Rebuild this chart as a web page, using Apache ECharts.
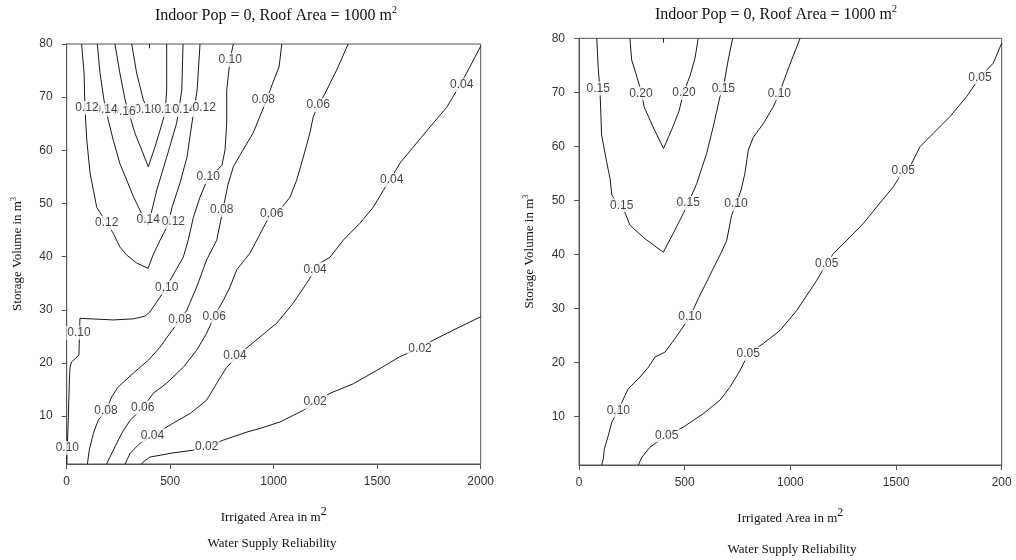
<!DOCTYPE html>
<html><head><meta charset="utf-8">
<script src="https://cdn.jsdelivr.net/npm/echarts@6/dist/echarts.min.js"></script>
<style>html,body{margin:0;padding:0;background:#fff}#c{width:1016px;height:560px}</style>
</head><body><div id="c"></div>
<script>
// ---- axes / tick labels ----
const xTicks = [0, 500, 1000, 1500, 2000];
const xTickLabelsLeft = ['0', '500', '1000', '1500', '2000'];
const xTickLabelsRight = ['0', '500', '1000', '1500', '200'];
const yTicks = [10, 20, 30, 40, 50, 60, 70, 80];
const yTickLabels = ['10', '20', '30', '40', '50', '60', '70', '80'];

// ---- left panel contours [irrigated area, storage volume] ----
const left_012 = [[72,80],[84,74.5],[88,68.1],[97,61.9],[113,55.7],[129,52.5],[145,49.3],[193,46.3],[225,44.4],[257,41.8],[290,40.3],[338,38.8],[393,37.8],[417,40.3],[451,43.1],[489,45.9],[509,49.3],[547,53.8],[581,58.7],[605,65.1],[630,71.3],[644,80]];
const left_014 = [[148,80],[161,74.5],[185,68.2],[225,61.9],[257,57.5],[290,54.4],[322,51.3],[362,48.1],[393,45.9],[412,48.8],[435,52.5],[483,58.7],[531,65.1],[556,71.3],[562,80]];
const left_016 = [[233,80],[257,74.5],[282,69.5],[330,63.2],[362,60.1],[394,56.9],[427,60.7],[451,63.8],[475,67.0],[483,71.3],[483,80]];
const left_018 = [[314,80],[338,74.5],[370,69.5],[393,67.6]];
const left_010 = [[805,80],[789,77.0],[773,71.3],[773,65.1],[765,60.1],[750,57.2],[712,55.7],[683,54.8],[644,51.2],[612,47.4],[587,43.1],[563,39.9],[528,37.5],[485,34.5],[451,32.4],[402,29.6],[378,28.8],[322,28.3],[225,28.1],[64,28.4],[59,28.4],[59,21.5],[24,20.2],[16,19.2],[13,16.8],[8,9.8],[0,1]];
const left_008 = [[1039,80],[1026,75.7],[992,72.3],[966,69.5],[901,63.3],[837,59.1],[805,56.9],[779,53.5],[757,49.3],[725,43.1],[676,39.4],[628,34.3],[580,29.9],[547,28.1],[499,25.6],[451,23.0],[394,20.5],[322,18.1],[249,15.5],[217,13.6],[190,11.0],[153,9.3],[129,6.8],[109,3.6],[100,1]];
const left_006 = [[1360,80],[1304,75.1],[1248,70.7],[1215,68.5],[1191,66.3],[1175,63.3],[1143,58.7],[1111,54.4],[1079,51.2],[1030,48.8],[982,47.8],[944,45.0],[886,40.7],[821,37.5],[789,34.3],[757,31.8],[716,29.0],[676,25.6],[628,22.4],[563,19.2],[483,16.2],[418,14.3],[367,11.5],[306,9.2],[266,6.8],[225,3.6],[193,1]];
const left_004 = [[2000,79.6],[1948,75.7],[1900,72.3],[1836,68.1],[1755,64.4],[1674,60.6],[1610,57.6],[1562,54.4],[1530,52.5],[1481,49.3],[1417,46.3],[1336,43.1],[1272,39.9],[1224,38.8],[1200,37.5],[1159,35.0],[1095,31.3],[1015,27.5],[934,24.9],[837,21.8],[773,19.2],[725,16.2],[676,13.0],[596,10.5],[515,8.7],[418,6.4],[354,4.9],[306,3.0],[282,1]];
const left_002 = [[2000,28.7],[1900,26.8],[1771,24.3],[1707,22.8],[1610,21.2],[1498,18.6],[1385,16.1],[1272,14.3],[1200,12.7],[1143,11.1],[1030,8.9],[934,7.7],[870,7.0],[757,5.5],[676,4.2],[612,3.6],[515,3.1],[402,2.3],[370,1.4],[362,1]];
const left_peak = [[400,80],[400,79.2]];
const leftContours = [left_018, left_016, left_014, left_012, left_010, left_008, left_006, left_004, left_002, left_peak];
// contour labels [x, y, text]
const leftLabels = [
  [383,67.6,'0.18'],
  [277,67.3,'0.16'],[480,67.6,'0.16'],
  [190,67.6,'0.14'],[567,67.6,'0.14'],
  [98,68.0,'0.12'],[664,68.1,'0.12'],
  [790,77.0,'0.10'],[950,69.5,'0.08'],[1215,68.5,'0.06'],[1908,72.3,'0.04'],
  [684,55.0,'0.10'],[749,48.8,'0.08'],[990,48.1,'0.06'],[1570,54.4,'0.04'],
  [193,46.3,'0.12'],[394,46.9,'0.14'],[515,46.6,'0.12'],[1200,37.6,'0.04'],
  [483,34.2,'0.10'],[547,28.1,'0.08'],[713,28.8,'0.06'],[59,25.7,'0.10'],
  [813,21.3,'0.04'],[1707,22.6,'0.02'],[190,11.1,'0.08'],[367,11.6,'0.06'],
  [1200,12.7,'0.02'],[414,6.4,'0.04'],[676,4.2,'0.02'],[3,4.0,'0.10']
];

// ---- right panel contours ----
const right_015 = [[84,80],[91,74.4],[99,70.7],[107,62.1],[131,57.1],[147,54.0],[155,51.0],[175,49.8],[202,49.1],[226,46.9],[241,45.4],[312,42.9],[399,40.4],[446,43.9],[494,47.6],[517,49.5],[557,53.1],[604,58.7],[635,63.6],[667,69.2],[683,70.9],[706,76.0],[727,80]];
const right_020 = [[241,80],[249,76.0],[273,73.0],[296,69.9],[308,67.3],[355,63.2],[400,59.6],[442,63.4],[473,66.5],[494,69.9],[525,73.0],[549,76.3],[564,80]];
const right_010 = [[1046,80],[1006,76.0],[979,73.2],[948,69.8],[919,67.3],[872,64.2],[825,61.7],[801,59.3],[785,55.0],[767,51.9],[743,49.3],[722,47.2],[699,42.6],[674,40.4],[643,38.0],[604,34.9],[564,31.8],[525,28.4],[486,26.2],[454,24.4],[407,21.9],[360,21.0],[328,19.1],[289,17.3],[233,15.1],[218,13.9],[186,11.1],[155,8.9],[139,6.5],[120,4.0],[115,2.1],[107,1]];
const right_005 = [[2000,79.1],[1960,75.4],[1897,72.8],[1834,69.2],[1755,65.5],[1676,62.4],[1613,59.9],[1566,56.2],[1534,55.4],[1487,52.5],[1409,48.8],[1345,45.7],[1282,43.2],[1203,40.1],[1172,38.3],[1125,35.2],[1093,33.3],[1030,29.6],[951,25.9],[872,23.5],[801,21.6],[762,18.5],[714,15.4],[667,13.0],[588,10.5],[493,8.0],[415,6.5],[336,4.3],[297,2.4],[281,1]];
const right_peak = [[400,80],[400,79.2]];
const rightContours = [right_020, right_015, right_010, right_005, right_peak];
const rightLabels = [
  [91,70.7,'0.15'],[293,69.8,'0.20'],[497,69.9,'0.20'],[683,70.7,'0.15'],[948,69.8,'0.10'],[1897,72.8,'0.05'],
  [202,49.1,'0.15'],[517,49.5,'0.15'],[743,49.3,'0.10'],[1534,55.4,'0.05'],[1172,38.3,'0.05'],
  [525,28.4,'0.10'],[801,21.6,'0.05'],[186,11.1,'0.10'],[415,6.5,'0.05']
];

// ---- text ----
const panelTitle = 'Indoor Pop = 0, Roof Area = 1000 m';
const xName = 'Irrigated Area in m';
const yName = 'Storage Volume in m';
const footText = 'Water Supply Reliability';

const SANS = '"Liberation Sans", Arial, sans-serif';
const SERIF = '"Liberation Serif", "Times New Roman", serif';
const AX = '#555';

function makeX(idx, labels) {
  return {
    gridIndex: idx, type: 'value', min: 0, max: 2000, interval: 500,
    axisLine: { show: true, lineStyle: { color: AX, width: 1 } },
    axisTick: { show: true, length: 5, lineStyle: { color: AX } },
    axisLabel: { margin: 12, fontSize: 12, color: '#333', fontFamily: SANS,
      formatter: v => labels[xTicks.indexOf(v)] },
    splitLine: { show: false },
    name: '{t|' + xName + '}{s|2}', nameLocation: 'middle', nameGap: 42,
    nameTextStyle: { rich: {
      t: { fontFamily: SERIF, fontSize: 13, color: '#111', lineHeight: 18, verticalAlign: 'bottom' },
      s: { fontFamily: SERIF, fontSize: 12, color: '#111', lineHeight: 12, verticalAlign: 'top' } } }
  };
}
function makeY(idx, gap) {
  return {
    gridIndex: idx, type: 'value', min: 1, max: 80,
    axisLine: { show: true, lineStyle: { color: AX, width: 1 } },
    axisTick: { show: true, length: 5, customValues: yTicks, lineStyle: { color: AX } },
    axisLabel: { margin: 14, fontSize: 12, color: '#333', fontFamily: SANS, customValues: yTicks,
      formatter: v => yTickLabels[yTicks.indexOf(v)] },
    splitLine: { show: false },
    name: '{t|' + yName + '}{s|3}', nameLocation: 'middle', nameGap: gap, nameRotate: 90,
    nameTextStyle: { rich: {
      t: { fontFamily: SERIF, fontSize: 13, color: '#111', lineHeight: 14, verticalAlign: 'bottom' },
      s: { fontFamily: SERIF, fontSize: 8, color: '#111', lineHeight: 8, verticalAlign: 'top' } } }
  };
}
function lineSeries(data, idx) {
  return { type: 'line', xAxisIndex: idx, yAxisIndex: idx, data: data, showSymbol: false, symbol: 'none',
    lineStyle: { color: '#1a1a1a', width: 1 }, silent: true, z: 2, clip: true, animation: false };
}
function labelSeries(labels, idx) {
  return { type: 'scatter', xAxisIndex: idx, yAxisIndex: idx, symbolSize: 0, silent: true, z: 10,
    data: labels.map(l => ({ value: [l[0], l[1]], name: l[2] })),
    label: { show: true, position: 'inside', formatter: p => p.name, fontFamily: SANS, fontSize: 12,
      color: '#111', backgroundColor: '#fff', padding: [1, 1] },
    animation: false };
}
const titleRich = {
  t: { fontFamily: SERIF, fontSize: 16, fontWeight: 'normal', color: '#111', lineHeight: 19, verticalAlign: 'bottom' },
  s: { fontFamily: SERIF, fontSize: 10, fontWeight: 'normal', color: '#111', lineHeight: 10, verticalAlign: 'top' }
};
const series = [];
leftContours.forEach(c => series.push(lineSeries(c, 0)));
rightContours.forEach(c => series.push(lineSeries(c, 1)));
series.push(labelSeries(leftLabels, 0));
series.push(labelSeries(rightLabels, 1));

const chart = echarts.init(document.getElementById('c'), null, { renderer: 'canvas' });
chart.setOption({
  animation: false,
  backgroundColor: '#fff',
  title: [
    { text: '{t|' + panelTitle + '}{s|2}', left: 271, top: 0, textAlign: 'center', textStyle: { fontWeight: 'normal', rich: titleRich } },
    { text: '{t|' + panelTitle + '}{s|2}', left: 771, top: -1, textAlign: 'center', textStyle: { fontWeight: 'normal', rich: titleRich } },
    { text: footText, left: 267, top: 532, textAlign: 'center', textStyle: { fontFamily: SERIF, fontSize: 13, fontWeight: 'normal', color: '#111' } },
    { text: footText, left: 787, top: 538, textAlign: 'center', textStyle: { fontFamily: SERIF, fontSize: 13, fontWeight: 'normal', color: '#111' } }
  ],
  grid: [
    { left: 66.7, top: 44, width: 414, height: 420, show: true, borderColor: AX, borderWidth: 1, backgroundColor: 'transparent' },
    { left: 579, top: 38.3, width: 422.7, height: 426.7, show: true, borderColor: AX, borderWidth: 1, backgroundColor: 'transparent' }
  ],
  xAxis: [makeX(0, xTickLabelsLeft), makeX(1, xTickLabelsRight)],
  yAxis: [makeY(0, 43), makeY(1, 43)],
  series: series
});
</script></body></html>
